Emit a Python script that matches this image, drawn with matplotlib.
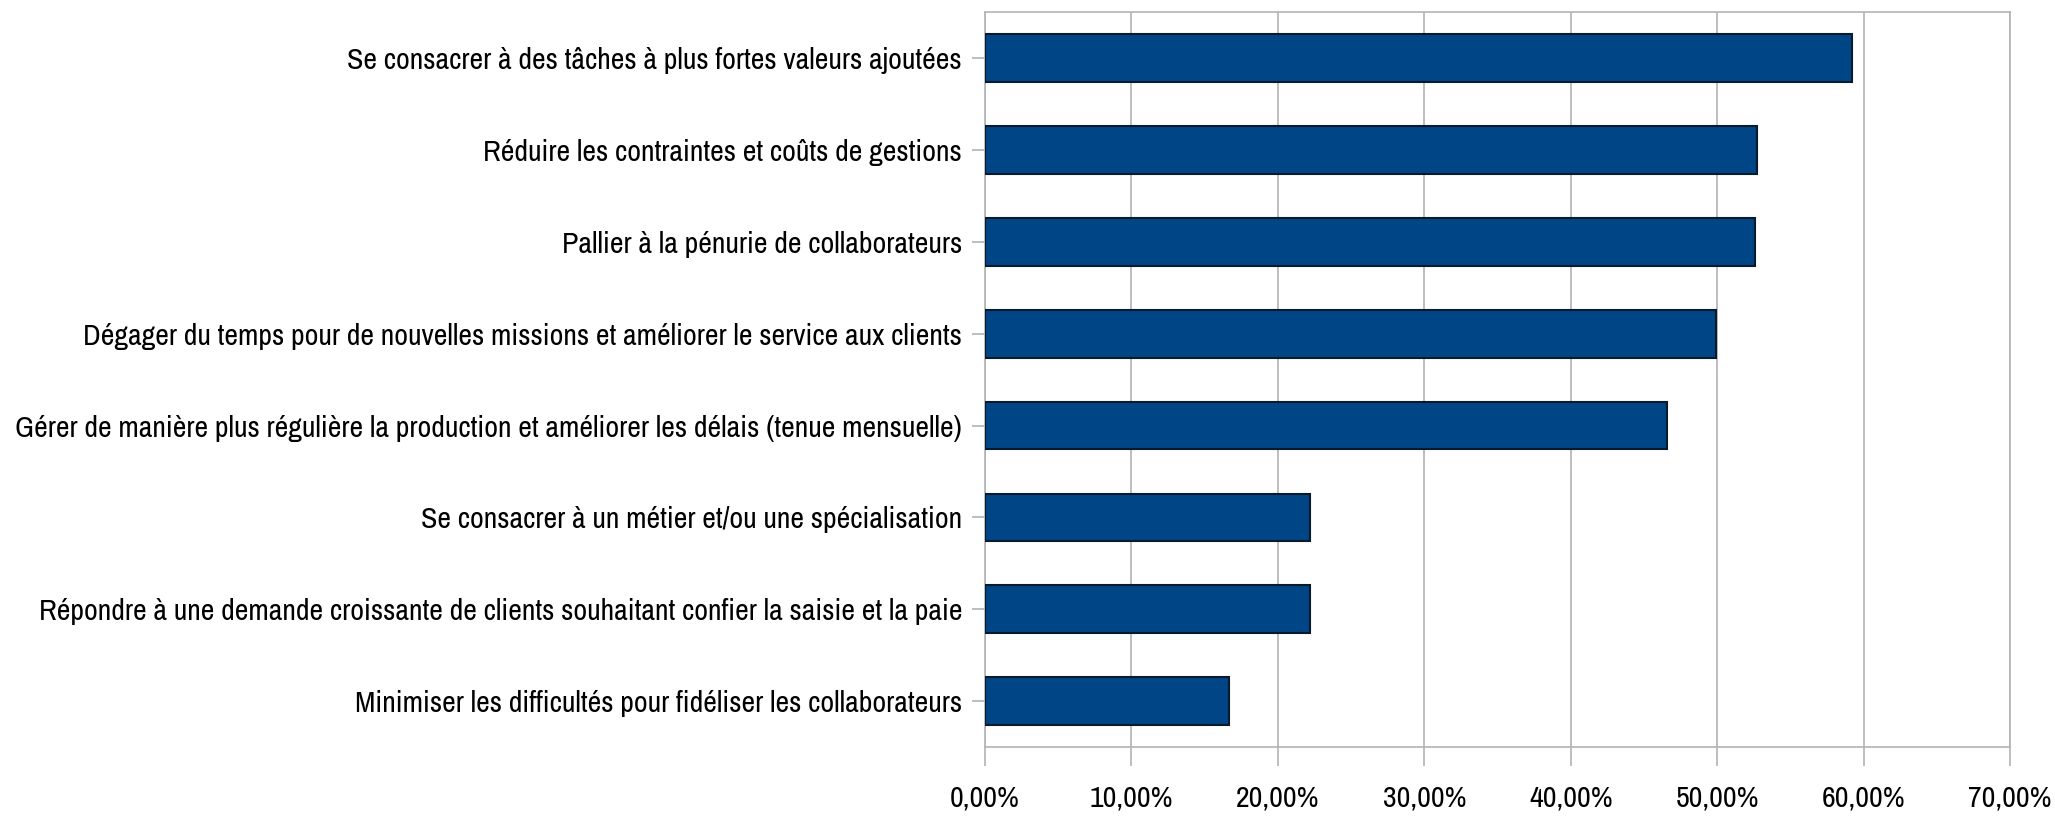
import matplotlib.pyplot as plt
from matplotlib.ticker import FuncFormatter

# Categories, top to bottom as in the chart
labels = [
    "Se consacrer à des tâches à plus fortes valeurs ajoutées",
    "Réduire les contraintes et coûts de gestions",
    "Pallier à la pénurie de collaborateurs",
    "Dégager du temps pour de nouvelles missions et améliorer le service aux clients",
    "Gérer de manière plus régulière la production et améliorer les délais (tenue mensuelle)",
    "Se consacrer à un métier et/ou une spécialisation",
    "Répondre à une demande croissante de clients souhaitant confier la saisie et la paie",
    "Minimiser les difficultés pour fidéliser les collaborateurs",
]
values = [59.2, 52.7, 52.6, 49.9, 46.6, 22.22, 22.22, 16.67]
x_ticks = [0, 10, 20, 30, 40, 50, 60, 70]

plt.rcParams['font.family'] = ['Archivo Narrow', 'Liberation Sans', 'DejaVu Sans']

fig = plt.figure(figsize=(20.55, 8.22), dpi=100)
ax = fig.add_axes([0.4793, 0.0912, 0.4988, 0.8938])

pos = list(range(len(labels)))
ax.barh(pos, values, height=0.52, color='#004586', edgecolor='#0a1a2a', linewidth=1.5, zorder=3)

ax.set_ylim(len(labels) - 0.5, -0.5)
ax.set_xlim(0, 70)
ax.set_xticks(x_ticks)
ax.xaxis.set_major_formatter(FuncFormatter(lambda v, p: f"{v:.2f}%".replace('.', ',')))
ax.set_yticks(pos)
ax.set_yticklabels(labels)

ax.grid(axis='x', color='#b3b3b3', linewidth=1.2, zorder=0)
for s in ax.spines.values():
    s.set_color('#b3b3b3')
    s.set_linewidth(1.2)

ax.tick_params(axis='x', length=14, width=1.2, color='#b3b3b3', labelsize=21.5, pad=13)
ax.tick_params(axis='y', length=9.5, width=1.2, color='#b3b3b3', labelsize=21.5, pad=7)

plt.savefig('out.png', dpi=100)
